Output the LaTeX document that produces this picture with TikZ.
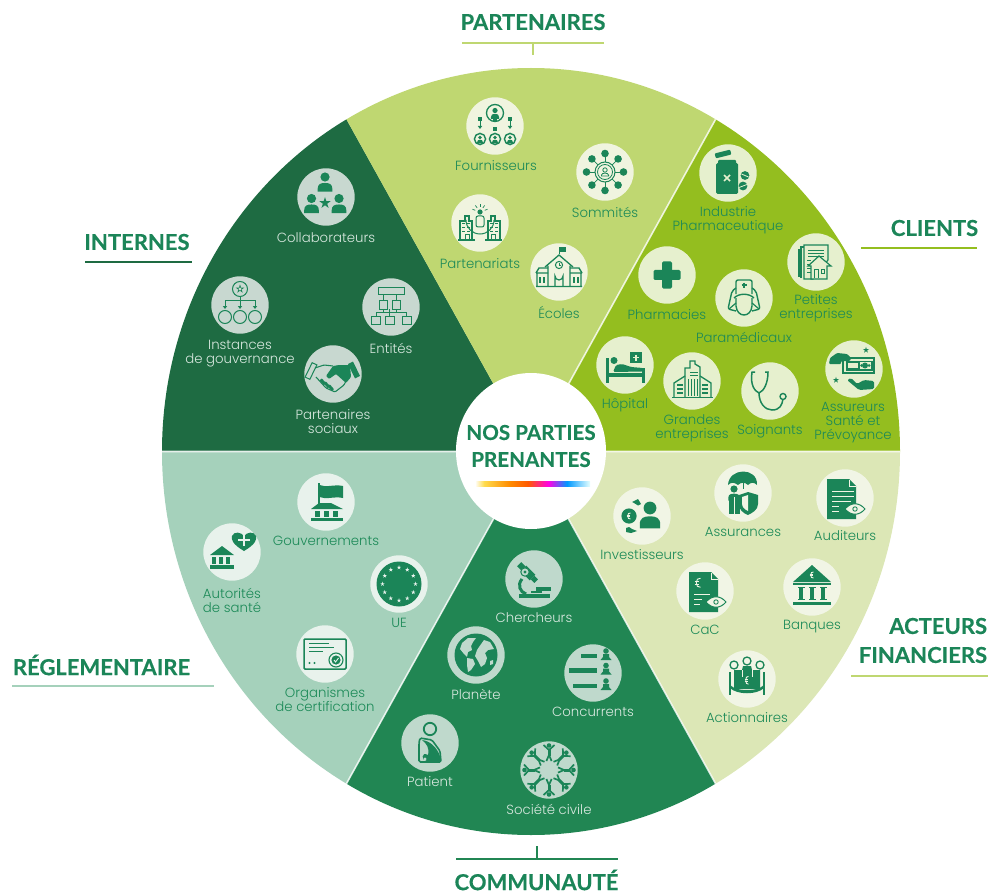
\documentclass[tikz,border=0pt]{standalone}
\usepackage{fontspec}
\usetikzlibrary{arrows.meta,shapes.geometric}
\newfontfamily\labfont{Poppins Light}
\newfontfamily\headfont{Lato}[BoldFeatures={FakeBold=0.35}]
\definecolor{iconc}{HTML}{1B8558}
\definecolor{textg}{HTML}{1C8A58}
\definecolor{textl}{HTML}{D8E8DF}
\definecolor{secint}{HTML}{1E6B42}
\definecolor{secpar}{HTML}{BFD771}
\definecolor{seccli}{HTML}{94BE1F}
\definecolor{secfin}{HTML}{DCE7B6}
\definecolor{seccom}{HTML}{218653}
\definecolor{secreg}{HTML}{A5D1BB}
\definecolor{dpar}{HTML}{F0F4DF}
\definecolor{dcli}{HTML}{E6F0CE}
\definecolor{dfin}{HTML}{F1F5E5}
\definecolor{dcom}{HTML}{BFD9CC}
\definecolor{dint}{HTML}{C8D8D0}
\definecolor{dreg}{HTML}{E8F2EC}
\pgfdeclarehorizontalshading{rainbowbar}{100bp}{color(0bp)=(white); color(25bp)=(white); color(29bp)=(yellow!60!orange!70!white); color(40bp)=(orange!90!yellow); color(48bp)=(orange!70!red); color(57bp)=(magenta!90!red); color(65bp)=(cyan!60!blue); color(75bp)=(cyan!10!white); color(100bp)=(white)}
\tikzset{
  disc/.style={circle,minimum size=57.4pt,inner sep=0pt,draw=none},
  lab/.style={align=center,inner sep=0pt,font=\labfont\fontsize{13.3}{14}\selectfont},
  head/.style={inner sep=0pt,text=iconc,font=\headfont\bfseries\fontsize{22}{29}\selectfont},
}
% ---------- helpers ----------
\newcommand\pers[3]{%
  \fill[shift={(#1,#2)},scale=#3] (0,0) circle[radius=1];
  \fill[shift={(#1,#2)},scale=#3] (-1.6,3.2) -- (-1.6,2.6) .. controls (-1.6,1.5) and (-.9,1.3) .. (0,1.3) .. controls (.9,1.3) and (1.6,1.5) .. (1.6,2.6) -- (1.6,3.2) -- cycle;}
\newcommand\tstar[3]{\fill[shift={(#1,#2)},scale=#3] (0,-1)--(.22,-.31)--(.95,-.31)--(.36,.12)--(.59,.81)--(0,.38)--(-.59,.81)--(-.36,.12)--(-.95,-.31)--(-.22,-.31)--cycle;}
\newcommand\eur[2]{\begin{scope}[shift={(#1,#2)}]\draw[discc,line width=.9pt] (1.5,-3) .. controls (-2.2,-4) and (-2.2,4) .. (1.5,3);
  \draw[discc,line width=.6pt] (-2.4,-.7)--(.8,-.7) (-2.4,.7)--(.8,.7);\end{scope}}
\newcommand\eye[2]{\begin{scope}[shift={(#1,#2)}]\filldraw[fill=discc,line width=1pt] (-10,0) .. controls (-4,-7) and (4,-7) .. (10,0) .. controls (4,7) and (-4,7) .. (-10,0) -- cycle;
  \draw[line width=.9pt] (0,0) circle[radius=2.2];\end{scope}}
\newcommand\darrow[3]{\draw[line width=.9pt] (#1,#2)--(#1,#3);\fill (#1-2.2,#3-1)--(#1+2.2,#3-1)--(#1,#3+2)--cycle;}
% ---------- icons ----------
\newcommand\icFou{\draw[line width=1.3pt] (0,-13) circle[radius=8.5];\pers{0}{-15.5}{2.6}
  \foreach \x in {-15,0,15}{\fill (\x-2,-9) rectangle (\x+2,-5);\draw[line width=1.4pt] (\x,13) circle[radius=5.6];\pers{\x}{11.5}{1.8}}
  \darrow{-15}{-4.5}{1}\darrow{15}{-4.5}{1}\fill (-2,1) rectangle (2,5);}
\newcommand\icSom{\foreach \a in {0,45,...,315}{\draw[line width=.7pt] (\a:7)--(\a:16);\fill (\a:18.5) circle[radius=3.8];}
  \filldraw[fill=discc,line width=1pt] (0,0) circle[radius=10];\draw[line width=.8pt] (0,0) circle[radius=7.5];\draw[line width=.8pt] (0,-2) circle[radius=2.2];\draw[line width=.8pt] (-3.6,4)--(-3.6,3) .. controls (-3,.5) and (3,.5) .. (3.6,3)--(3.6,4)--cycle;}
\newcommand\icPar{\draw[line width=1pt] (-14,-3) arc[start angle=180,end angle=0,radius=14];
  \fill (0,-11) circle[radius=2.6];\draw[line width=1pt,rounded corners=2pt] (-4,4) rectangle (4,-7);
  \foreach \a in {-160,-125,-90,-55,-20}{\draw[line width=.7pt] ([shift={(\a:5)}]0,-11)--([shift={(\a:8)}]0,-11);}
  \foreach \s in {-1,1}{\begin{scope}[xscale=\s]\draw[line width=1.1pt] (8,16)--(8,-2)--(11,-2)--(11,-7)--(15,-7)--(15,-2)--(20,-2)--(20,16);
    \foreach \y in {0,4,8}{\draw[line width=.9pt] (10,\y)--(13,\y);\draw[line width=.9pt] (15,\y)--(18,\y);}
    \draw[line width=1.4pt] (5,17)--(22,17);\draw[line width=1pt] (11,16)--(11,12)--(15,12)--(15,16);\end{scope}}}
\newcommand\icEco{\draw[line width=1pt] (0,-18)--(0,-25);\fill (0,-25) rectangle (7,-20);
  \draw[line width=1.3pt] (-14,-5)--(0,-17)--(14,-5) (-11,-6)--(-11,14) (11,-6)--(11,14);
  \draw[line width=1pt] (0,-7) circle[radius=3.6];\draw[line width=.7pt] (0,-9)--(0,-7)--(1.5,-7);
  \draw[line width=1.2pt] (-4,14)--(-4,4) arc[start angle=180,end angle=0,radius=4]--(4,14);
  \draw[line width=1.4pt] (-23,1)--(-20,-4)--(-11,-4) (23,1)--(20,-4)--(11,-4) (-22,1)--(-22,14) (22,1)--(22,14) (-23,14.5)--(23,14.5) (-23,1)--(-11,1) (23,1)--(11,1);
  \foreach \x in {-19,-15,15,19}{\fill (\x-1.3,5) rectangle (\x+1.3,11);}}
\newcommand\icInd{\begin{scope}[shift={(-5,-19)},rotate=14]\fill[rounded corners=1pt] (-8,-2.5) rectangle (8,2.5);\end{scope}
  \fill[rounded corners=1pt] (-10,-13) rectangle (8,-8);\fill[rounded corners=1.5pt] (-12,-10) rectangle (10,21);
  \draw[discc,line width=1.6pt] (-4,2)--(2,8) (2,2)--(-4,8);
  \fill (17,2.5) circle[radius=4.4];\fill (15,13) circle[radius=4.4];\draw[discc,line width=.8pt] (13.5,1)--(20.5,4) (11,14.5)--(19,11.5);}
\newcommand\icPet{\draw[line width=1.1pt] (-17,15)--(-17,-13) (-15,16)--(-15,-15)--(10,-15);\filldraw[fill=discc,line width=1.2pt] (-12,17)--(-12,-17)--(12,-17)--(12,-2)--(-3,17)--cycle;
  \foreach \y in {-12,-9,-6}{\draw[line width=.9pt] (-8,\y)--(8,\y);}
  \foreach \y in {-2,2,6,10}{\draw[line width=.9pt] (-9,\y)--(-5,\y);}
  \filldraw[fill=discc,line width=1.2pt] (-5,17)--(-5,4)--(-8,4)--(3,-6)--(15,4)--(11,4)--(11,17)--cycle;\draw[line width=1pt] (-2,16)--(-2,8)--(2,8)--(2,16) (5,8) rectangle (8,12);}
\newcommand\icPha{\fill[rounded corners=1.4pt] (-13.5,-5) rectangle (13.5,5);\fill[rounded corners=1.4pt] (-5,-13.5) rectangle (5,13.5);}
\newcommand\icPam{\draw[line width=1.4pt,rounded corners=2pt] (-8,-4)--(-8,-18)--(8,-18)--(8,-4);
  \draw[line width=1.3pt] (-2.5,-13)--(2.5,-13) (0,-15.5)--(0,-10.5);
  \draw[line width=1.4pt,rounded corners=2pt] (-8,-10)--(-12,-7)--(-16,11)--(-8,13);\draw[line width=1.4pt,rounded corners=2pt] (8,-10)--(12,-7)--(16,11)--(8,13);
  \draw[line width=1.4pt] (-10,0) .. controls (-5,-5) and (5,-5) .. (10,0);
  \draw[line width=1.4pt] (-8,0)--(-8,8) .. controls (-7,20) and (7,20) .. (8,8)--(8,0);\draw[line width=1.2pt] (-15,11)--(-8,5) (15,11)--(8,5);}
\newcommand\icHop{\fill (5,-13) rectangle (17,-2);\draw[discc,line width=1.1pt] (8,-7.5)--(14,-7.5) (11,-10.5)--(11,-4.5);
  \fill (-19,-7) rectangle (-16.5,18);\fill (17,3) rectangle (20,18);\fill (-19,8) rectangle (20,12);
  \fill (-11,-4.5) circle[radius=3.5];\fill[rounded corners=1.5pt] (-12,7)--(-9,0)--(-3,-1)--(6,2)--(18,3)--(18,6.5)--cycle;}
\newcommand\icGra{\draw[line width=1.3pt] (-7,16)--(-7,-13)--(-2,-13)--(-2,-20)--(3,-20)--(3,-17)--(8,-14)--(8,16);
  \draw[line width=1.3pt] (-7,-5)--(-18,2)--(-18,16);\draw[line width=1.3pt] (8,-5)--(19,2)--(19,16);\draw[line width=1.3pt] (-20,16.5)--(21,16.5);
  \foreach \x in {-3.5,-.5,2.5,5.5}{\draw[line width=1pt] (\x,-2)--(\x,15);}
  \foreach \y in {3,7,11}{\fill (-15,\y) rectangle (-9.5,\y+2.3);\fill (10,\y) rectangle (16,\y+2.3);}
  \draw[line width=.9pt] (-2,-6)--(6,-6) (-2,-9)--(6,-9);}
\newcommand\icSoi{\draw[line width=1.5pt] (-15,-19)--(-18,-19) .. controls (-20,-5) and (-15,0) .. (-11,2) .. controls (-6,0) and (-2,-8) .. (-2,-19)--(-5,-19);
  \draw[line width=1.5pt] (-11,2) .. controls (-11,12) and (-5,19) .. (2,19) .. controls (10,19) and (12,14) .. (13,8);
  \filldraw[fill=discc,line width=1.4pt] (13,5.5) circle[radius=3];}
\newcommand\icAss{\draw[line width=1.3pt] (-11,-11) rectangle (20,4);\fill (-8,-8.5) rectangle (19,1.5);
  \fill[discc] (-6,-6) rectangle (4,-1);\fill[discc] (6,-7) rectangle (17,0);\fill (11,-3.5) circle[radius=3];\fill (7.5,-3.5) circle[radius=1.5];\fill (15,-3.5) circle[radius=1.5];
  \fill[rounded corners=1pt] (-25,-5)--(-24,-11)--(-17,-16)--(-7,-15)--(-3,-11)--(-4,-8)--(-13,-8)--(-13,-5)--cycle;
  \fill[rounded corners=1.5pt] (-7,11)--(-3,9)--(3,15)--(10,11)--(20,12)--(20,20)--(5,21)--cycle;
  \tstar{12}{-19}{3.2}\tstar{-18}{11}{3.2}}
\newcommand\icInv{\fill (-13,0) circle[radius=7.6];\eur{-13}{0}\pers{8}{-8}{6.4}
  \fill (-10,-14)--(-4,-17)--(-1,-12)--(-4,-10.5)--(-8,-13)--cycle;\fill (-16,12)--(-13,11)--(-10,13)--(-5,15)--(-11,17)--(-16,16)--cycle;}
\newcommand\icAur{\fill (-15,-8) .. controls (-14,-26) and (15,-26) .. (14,-8) .. controls (11,-11) and (8,-11) .. (5,-8) .. controls (2,-11) and (-2,-11) .. (-5,-8) .. controls (-9,-11) and (-12,-11) .. (-15,-8)--cycle;
  \draw[line width=1pt] (0,-10)--(0,-4);
  \pers{-9}{-4}{3.6}\fill (-14,2) rectangle (-3,21);\draw[discc,line width=.8pt] (-9,4)--(-9,21);
  \filldraw[fill=discc,draw=discc,line width=1pt] (-2,1) rectangle (14,6);\fill (-4,2)--(5,-1)--(15,2)--(15,11) .. controls (15,17) and (9,20) .. (5,22) .. controls (0,20) and (-4,17) .. (-4,11)--cycle;
  \fill[discc] (-1,4)--(5,2)--(5,18) .. controls (1,16) and (-1,14) .. (-1,10)--cycle;}
\newcommand\icAud{\fill (-18,-19)--(4,-19)--(11,-12)--(11,21)--(-18,21)--cycle;\draw[discc,line width=.8pt] (4.5,-18)--(4.5,-11.5)--(11,-11.5);
  \foreach \y/\l in {-7/9,-2/9,3/6,8/-6,13/-6}{\draw[discc,line width=1pt] (-13,\y)--(\l,\y);}
  \eye{10}{11}}
\newcommand\icCac{\fill (-16,-19)--(6,-19)--(13,-12)--(13,21)--(-16,21)--cycle;\draw[discc,line width=.8pt] (6.5,-18)--(6.5,-11.5)--(13,-11.5);
  \begin{scope}[scale=1.5]\eur{-4.5}{-5.5}\end{scope}
  \foreach \y/\l in {3/5,8/-3,13/-5}{\draw[discc,line width=1pt] (-11,\y)--(\l,\y);}
  \eye{11}{11}}
\newcommand\icBan{\fill (0,-22)--(19,-5)--(-19,-5)--cycle;\fill (-19,-4) rectangle (19,-2);\eur{0}{-12}
  \foreach \x in {-11,0,11}{\fill (\x-3.5,-.5) rectangle (\x+3.5,1);\fill (\x-2,0) rectangle (\x+2,12);\fill (\x-3.5,11.5) rectangle (\x+3.5,13);}
  \fill (-19,15) rectangle (19,18);}
\newcommand\icAct{\foreach \x/\y in {-13/-14,0/-18,13/-14}{\draw[line width=1.3pt] (\x,\y) circle[radius=4];}
  \fill (-13,-9)--(-5,-9)--(-4,-13)--(4,-13)--(5,-9)--(13,-9)--(13,-3)--(13,10)--(-13,10)--cycle;
  \draw[discc,line width=.8pt] (-5,-9)--(-5,-2) (5,-9)--(5,-2);\begin{scope}[yscale=1.3]\eur{0}{1}\end{scope}
  \fill (-18,-7) rectangle (-16,16);\fill (16,-7) rectangle (18,16);\fill (-17,6) .. controls (-10,13) and (10,13) .. (17,6) -- (17,9) .. controls (10,16) and (-10,16) .. (-17,9)--cycle;}
\newcommand\icChe{\begin{scope}[rotate=-45]\fill (-21,-3) rectangle (-15,3);\fill (-15,-4) rectangle (-2,4);\fill (-2,-2.5) rectangle (3,2.5);\end{scope}
  \filldraw[fill=discc,line width=1pt] (-9,-7) circle[radius=4.2];\fill (-9,-7) circle[radius=1.6];
  \draw[line width=3pt] (-12,0) .. controls (-17,6) and (-14,13) .. (-8,15);
  \fill (-15,15) rectangle (16,19);\fill (2,8) rectangle (17,11.5);\fill (-3,12) rectangle (8,14);}
\newcommand\icPla{\fill (0,0) circle[radius=21.5];\begin{scope}[discc]
  \fill (-14,-12)--(-8,-17)--(0,-17)--(-3,-13)--(-5,-9)--(-4,-5)--(-8,-3)--(-9,2)--(-12,-1)--(-16,-6)--cycle;
  \fill (-9,3)--(-3,4)--(-1,9)--(-5,15)--(-8,17)--(-9,10)--cycle;
  \fill (3,-8)--(8,-15)--(14,-13)--(18,-6)--(12,-5)--(9,-2)--(11,3)--(9,9)--(5,12)--(2,6)--(-1,1)--(1,-5)--cycle;
  \fill (14,6)--(17,5)--(17,9)--(14,10)--cycle;\end{scope}}
\newcommand\icCon{\foreach \y/\l in {-17/-12,-2.5/-24,13/-20}{\fill (\l,\y-2.4) rectangle (4,\y+2.4);\begin{scope}[shift={(13,\y-2)}]\fill (0,-3) circle[radius=2.8];\fill (-3,0)--(3,0)--(3,3)--(5.5,6)--(-5.5,6)--(-3,3)--cycle;\end{scope}}}
\newcommand\icPat{\draw[line width=1.8pt] (0,-14) circle[radius=6.2];
  \draw[line width=1.6pt,rounded corners=1.5pt] (-11,0)--(-10,-5)--(2,-3)--(10,8)--(11,19)--(-11,19)--cycle;
  \fill (-8,-3) .. controls (2,-2) and (10,8) .. (11,18)--(-3,18) .. controls (-9,18) and (-9,8) .. (-2,12) .. controls (0,5) and (-4,0) .. (-8,-3)--cycle;
  \fill[discc] (-5,16) circle[radius=1.6];}
\newcommand\icSoc{\foreach \a in {0,45,...,315}{\begin{scope}[rotate=\a]
  \fill (0,-24.5) circle[radius=2.3];\draw[line width=3pt] (0,-21)--(0,-14.5);\draw[line width=1.7pt] (0,-20)--(-5.5,-25) (0,-20)--(5.5,-25);\draw[line width=1.7pt] (0,-15)--(-2.6,-9) (0,-15)--(2.6,-9);\end{scope}}}
\newcommand\icGou{\fill (-8.5,-19) rectangle (-6.5,3);\fill (-6.5,-17) .. controls (0,-14) and (8,-18) .. (17,-16)--(17,-4) .. controls (8,-6) and (0,-2) .. (-6.5,-5)--cycle;
  \fill (-15,7)--(-7,1)--(5,1)--(17,7)--(-15,7)--cycle;\foreach \x in {-11,-2,7}{\fill (\x,9) rectangle (\x+5,15);}
  \fill (-15,15.5) rectangle (17,18.5);}
\newcommand\icAut{\fill (12,-1) .. controls (0,-8) and (-1,-13) .. (0,-16) .. controls (2,-21) and (9,-20) .. (12,-16) .. controls (15,-20) and (22,-21) .. (24,-16) .. controls (25,-13) and (24,-8) .. (12,-1)--cycle;
  \draw[discc,line width=2pt] (6,-12)--(18,-12) (12,-18)--(12,-6);
  \fill (-10,-6)--(2,3)--(-22,3)--cycle;\foreach \x in {-20,-13,-6}{\fill (\x,5) rectangle (\x+4,12);}\fill (-22,13) rectangle (2,17);}
\newcommand\icUE{\filldraw[fill=iconc,draw=iconc] (0,0) circle[radius=22];\foreach \a in {0,30,...,330}{\begin{scope}[shift={(\a:16.5)},discc]\tstar{0}{0}{2.3}\end{scope}}}
\newcommand\icOrg{\draw[line width=1.5pt,rounded corners=1pt] (-21,-15) rectangle (21,15);
  \foreach \y/\l in {-11/4,-7/9,-3/-2}{\draw[line width=1pt] (-16,\y)--(\l,\y);}\fill (-15.5,9) circle[radius=1.1];\fill (-10.5,9) circle[radius=1.1];
  \filldraw[fill=discc,line width=1.1pt] (11,6) circle[radius=7];\fill (11,6) circle[radius=4.6];\draw[discc,line width=.9pt] (9,6)--(10.5,8)--(13.5,4);}
\newcommand\icCol{\pers{-1}{-20}{4.6}\pers{-14.5}{1.5}{4.6}\pers{13}{1.5}{4.6}\tstar{-1}{6}{6}}
\newcommand\icIns{\draw[line width=1pt] (0,-16) circle[radius=7.5];\tstar{0}{-16}{4.6}
  \fill[discc] (0,-16) circle[radius=1.6];
  \draw[line width=.9pt] (0,-8.5)--(0,-5) (-15,-5)--(15,-5);
  \foreach \x in {-15,0,15}{\darrow{\x}{-5}{2}\draw[line width=1pt] (\x,12) circle[radius=6.5];}}
\newcommand\icEnt{\draw[line width=1pt] (-13,-20) rectangle (13,-13) (-12,-7) rectangle (-3.5,2) (1,-7) rectangle (9.5,2) (-20,9) rectangle (-11,17) (-6,9) rectangle (3,17) (11,9) rectangle (20,17);
  \draw[line width=.8pt] (-7.5,-13)--(-7.5,-7) (5,-13)--(5,-7) (-1.5,2)--(-1.5,5.5) (-15,9)--(-15,5.5)--(15,5.5)--(15,9) (-1.5,5.5)--(-1.5,9) (5,2)--(5,5.5) (-7.5,2)--(-7.5,5.5);}
\newcommand\icHan{\begin{scope}[shift={(-22,-3)},rotate=-26]\draw[line width=1pt] (-2.6,-8) rectangle (2.6,8);\end{scope}\begin{scope}[shift={(21,-4)},rotate=26]\fill (-2.8,-8) rectangle (2.8,8);\end{scope}
  \draw[line width=1.1pt,rounded corners=1pt] (-18,-6)--(-9,-9)--(0,-8) (-17,3)--(-7,14)--(2,18)--(11,11)--(13,7);
  \fill[rounded corners=1pt] (17,-9)--(6,-9)--(0,-8)--(-7,2)--(-4,5)--(3,0)--(13,9)--(18,3)--cycle;
  \foreach \x/\y in {-10/8,-6/11,-2/14}{\begin{scope}[shift={(\x,\y)},rotate=40]\fill[rounded corners=.6pt] (-1.5,-3.5) rectangle (1.5,3);\end{scope}}}
% ---------- one stakeholder ----------
\newcommand\stake[9]{%
  \colorlet{discc}{#4}%
  \node[disc,fill=#4] (#1) at (#2,#3) {};
  \begin{scope}[shift={(#2,#3)},iconc,line width=1pt]#5\end{scope}
  \node[lab,text=#9] (#1lab) at (#6,#7) {#8};}
\begin{document}
\begin{tikzpicture}[x=1pt,y=-1pt]
\useasboundingbox (0,0) rectangle (990,893);
\coordinate (C) at (531,451.5);
\coordinate (ul) at (162,-212.5);\coordinate (ur) at (900,-212.5);\coordinate (r) at (1269,451.5);
\coordinate (lr) at (900,1115.5);\coordinate (ll) at (162,1115.5);\coordinate (l) at (-207,451.5);
\begin{scope}
  \clip (531,451.5) ellipse [x radius=369pt,y radius=383.5pt];
  \fill[secint] (C)--(l)--(ul)--cycle;
  \fill[secpar] (C)--(ul)--(ur)--cycle;
  \fill[seccli] (C)--(ur)--(r)--cycle;
  \fill[secfin] (C)--(r)--(lr)--cycle;
  \fill[seccom] (C)--(lr)--(ll)--cycle;
  \fill[secreg] (C)--(ll)--(l)--cycle;
  \draw[white,line width=1.6pt,opacity=.8] (C)--(ur) (C)--(r) (C)--(lr) (C)--(ll) (C)--(l);
\end{scope}
\node[ellipse,fill=white,minimum width=150pt,minimum height=156pt,inner sep=0pt] (hub) at (531,451) {};
\node[head,align=center,font=\headfont\bfseries\fontsize{20.6}{27}\selectfont] (hubt) at (531,446) {NOS PARTIES\\PRENANTES};
\shade[shading=rainbowbar] (475,481.5) rectangle (590,486.5);
% sector titles and their rules
\node[head] (tpar) at (533,22) {PARTENAIRES};
\coordinate (a1) at (462,43);\coordinate (a2) at (604,43);\coordinate (a3) at (533,43);\coordinate (a4) at (533,55);
\draw[secpar,line width=1.5pt] (a1)--(a2) (a3)--(a4);
\node[head] (tcli) at (934.5,228) {CLIENTS};
\coordinate (b1) at (861,248);\coordinate (b2) at (977,248);
\draw[seccli,line width=1.5pt] (b1)--(b2);
\node[head,align=right] (tfin) at (923,640.5) {ACTEURS\\FINANCIERS};
\coordinate (c1) at (851,676);\coordinate (c2) at (988,676);
\draw[secpar,line width=1.5pt] (c1)--(c2);
\node[head] (tcom) at (536.5,880) {COMMUNAUTÉ};
\coordinate (d1) at (456,859);\coordinate (d2) at (618,859);\coordinate (d3) at (537,846);\coordinate (d4) at (537,859);
\draw[seccom,line width=1.5pt] (d1)--(d2) (d3)--(d4);
\node[head] (treg) at (101.5,665) {RÉGLEMENTAIRE};
\coordinate (e1) at (12,686);\coordinate (e2) at (214,686);
\draw[secreg,line width=1.5pt] (e1)--(e2);
\node[head] (tint) at (137,242) {INTERNES};
\coordinate (f1) at (85,262);\coordinate (f2) at (192,262);
\draw[secint,line width=1.5pt] (f1)--(f2);
% partenaires
\stake{fou}{495}{126}{dpar}{\icFou}{496}{166}{Fournisseurs}{textg}
\stake{som}{605}{172}{dpar}{\icSom}{605}{212}{Sommités}{textg}
\stake{prt}{480}{223}{dpar}{\icPar}{480}{264}{Partenariats}{textg}
\stake{eco}{559}{272}{dpar}{\icEco}{559}{312}{Écoles}{textg}
% clients
\stake{ind}{728}{173}{dcli}{\icInd}{728}{220}{Industrie\\Pharmaceutique}{textg}
\stake{pet}{816}{262}{dcli}{\icPet}{816}{308}{Petites\\entreprises}{textg}
\stake{pha}{667}{275}{dcli}{\icPha}{667}{315}{Pharmacies}{textg}
\stake{pam}{744}{298}{dcli}{\icPam}{744}{337}{Paramédicaux}{textg}
\stake{hop}{625}{365}{dcli}{\icHop}{625}{405}{Hôpital}{textg}
\stake{gra}{692}{381}{dcli}{\icGra}{692}{428}{Grandes\\entreprises}{textg}
\stake{soi}{770}{391}{dcli}{\icSoi}{770}{431}{Soignants}{textg}
\stake{asr}{854}{369}{dcli}{\icAss}{853}{423}{Assureurs\\Santé et\\Prévoyance}{textg}
% financiers
\stake{inv}{642}{516}{dfin}{\icInv}{642}{555}{Investisseurs}{textg}
\stake{aur}{743}{493}{dfin}{\icAur}{743}{532}{Assurances}{textg}
\stake{aud}{845}{498}{dfin}{\icAud}{845}{536}{Auditeurs}{textg}
\stake{cac}{705}{591}{dfin}{\icCac}{705}{630}{CaC}{textg}
\stake{ban}{812}{587}{dfin}{\icBan}{812}{627}{Banques}{textg}
\stake{act}{747}{679}{dfin}{\icAct}{747}{718}{Actionnaires}{textg}
% communaute
\stake{che}{534}{579}{dcom}{\icChe}{534}{618}{Chercheurs}{textl}
\stake{pla}{476}{655}{dcom}{\icPla}{476}{694}{Planète}{textl}
\stake{con}{593}{673}{dcom}{\icCon}{593}{712}{Concurrents}{textl}
\stake{pat}{430}{743}{dcom}{\icPat}{430}{782}{Patient}{textl}
\stake{soc}{549}{770}{dcom}{\icSoc}{549}{809}{Société civile}{textl}
% reglementaire
\stake{gou}{326}{502}{dreg}{\icGou}{326}{541}{Gouvernements}{textg}
\stake{aut}{232}{552}{dreg}{\icAut}{232}{600}{Autorités\\de santé}{textg}
\stake{ue}{399}{584}{dreg}{\icUE}{399}{623}{UE}{textg}
\stake{org}{325}{654}{dreg}{\icOrg}{325}{700}{Organismes\\de certification}{textg}
% internes
\stake{col}{326}{197}{dint}{\icCol}{326}{238}{Collaborateurs}{textl}
\stake{ins}{240}{305}{dint}{\icIns}{240}{354}{Instances\\de gouvernance}{textl}
\stake{ent}{391}{307}{dint}{\icEnt}{391}{348}{Entités}{textl}
\stake{han}{333}{374}{dint}{\icHan}{333}{422}{Partenaires\\sociaux}{textl}
\end{tikzpicture}
\end{document}
